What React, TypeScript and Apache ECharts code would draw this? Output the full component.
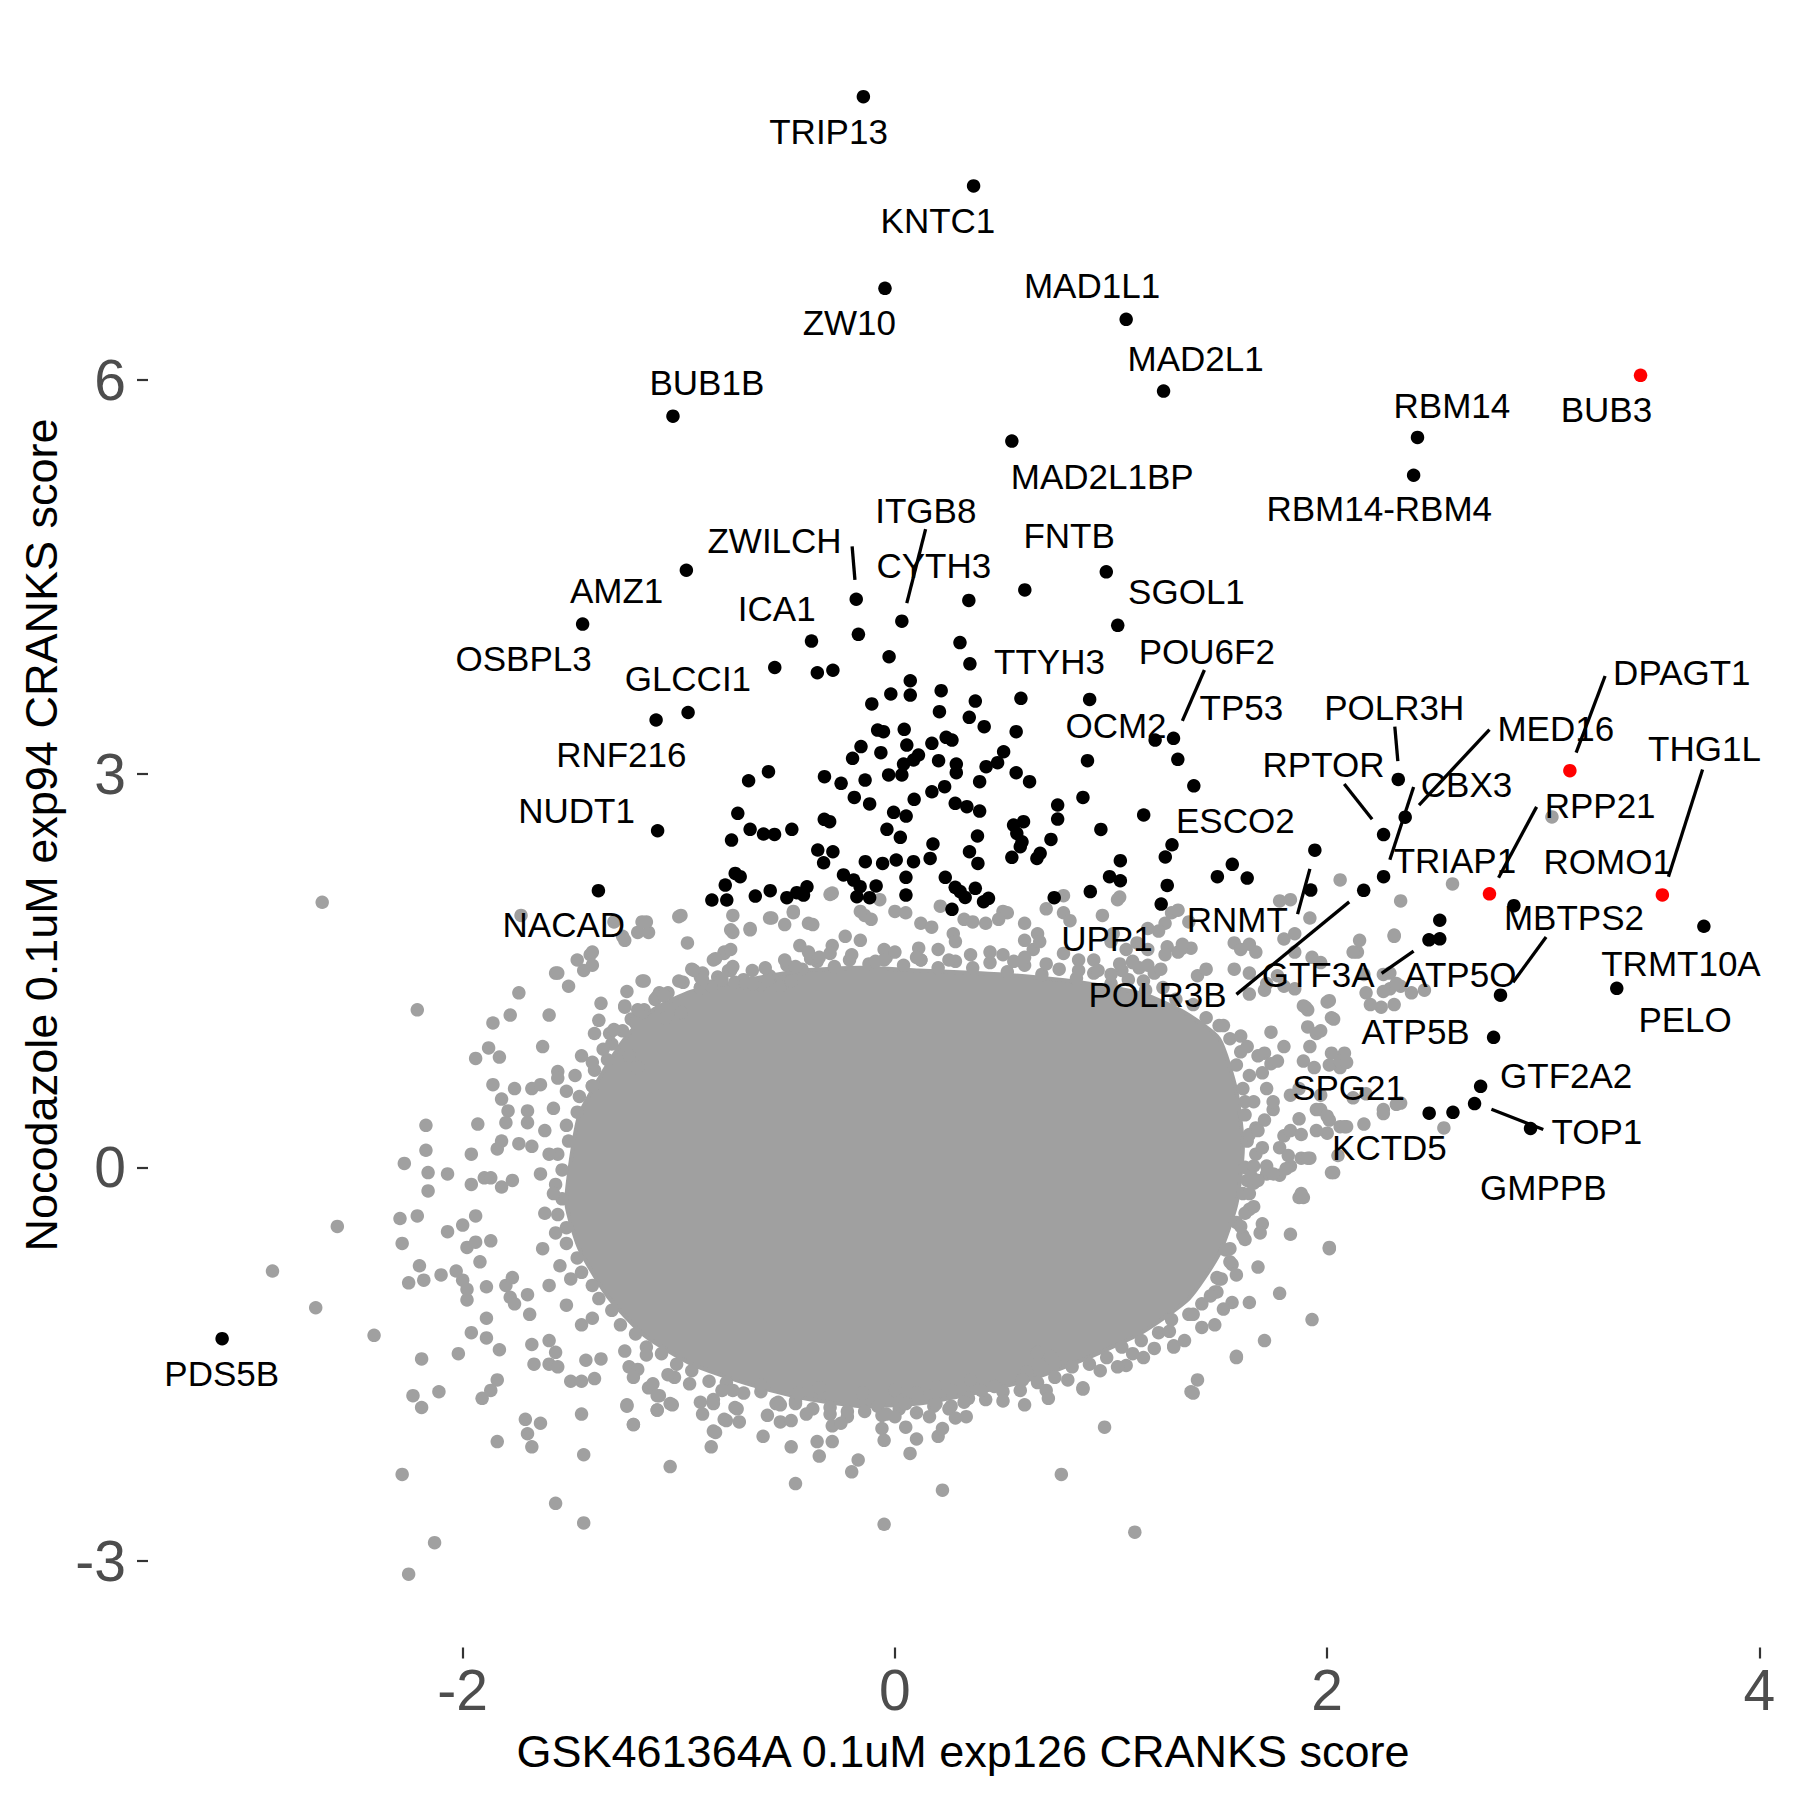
import React, { useEffect, useRef } from "react";
import * as echarts from "echarts";

const X_TICKS = [-2, 0, 2, 4];
const Y_TICKS = [-3, 0, 3, 6];
const X_TITLE = "GSK461364A 0.1uM exp126 CRANKS score";
const Y_TITLE = "Nocodazole 0.1uM exp94 CRANKS score";

// dense core of the background cloud (outline, data units)
const grayCore: [number, number][] = [
  [-1.5, 0.05], [-1.46, 0.4], [-1.36, 0.7], [-1.24, 1.0], [-1.12, 1.2], [-0.94, 1.34], [-0.68, 1.43],
  [-0.42, 1.5], [-0.16, 1.52], [0.11, 1.5], [0.38, 1.48], [0.64, 1.45], [0.9, 1.4], [1.15, 1.32],
  [1.34, 1.18], [1.5, 0.98], [1.58, 0.58], [1.61, 0.15], [1.58, -0.28], [1.5, -0.66], [1.36, -1.0],
  [1.14, -1.26], [0.88, -1.46], [0.62, -1.62], [0.37, -1.72], [0.11, -1.8], [-0.16, -1.82], [-0.42, -1.76],
  [-0.68, -1.65], [-0.94, -1.5], [-1.16, -1.28], [-1.33, -0.98], [-1.46, -0.62], [-1.52, -0.28],
];

// genes sitting on the rim of the dense core
const grayRim: [number, number][] = [
  [-1.05, 1.33], [-0.98, 1.41], [-0.9, 1.37], [-0.82, 1.45], [-0.74, 1.41], [-0.66, 1.5], [-0.58, 1.46],
  [-0.5, 1.54], [-0.43, 1.51], [-0.36, 1.57], [-0.28, 1.53], [-0.21, 1.58], [-0.12, 1.55], [-0.04, 1.6],
  [0.04, 1.54], [0.12, 1.58], [0.2, 1.52], [0.28, 1.57], [0.36, 1.52], [0.44, 1.56], [0.52, 1.49],
  [0.6, 1.54], [0.68, 1.47], [0.76, 1.51], [0.84, 1.44], [0.92, 1.48], [1.0, 1.4], [1.08, 1.43],
  [1.16, 1.35], [1.24, 1.37], [1.3, 1.28], [1.38, 1.24], [1.44, 1.14], [1.5, 1.08],
  [1.55, 0.98], [1.6, 0.88], [1.58, 0.78], [1.64, 0.7], [1.61, 0.6], [1.66, 0.5], [1.62, 0.4],
  [1.67, 0.3], [1.63, 0.2], [1.67, 0.1], [1.62, 0.0], [1.66, -0.1], [1.61, -0.2], [1.64, -0.32],
  [1.58, -0.42], [1.61, -0.52], [1.55, -0.62], [1.56, -0.74], [1.49, -0.84], [1.49, -0.95],
  [1.42, -1.04], [1.36, -1.12], [1.28, -1.16], [1.22, -1.26], [1.14, -1.32], [1.05, -1.37], [0.98, -1.45],
  [0.9, -1.5], [0.82, -1.52], [0.74, -1.6], [0.66, -1.64], [0.58, -1.7], [0.5, -1.71], [0.42, -1.77],
  [0.34, -1.76], [0.26, -1.82], [0.18, -1.82], [0.1, -1.87], [0.02, -1.84], [-0.06, -1.89], [-0.14, -1.86],
  [-0.22, -1.9], [-0.3, -1.83], [-0.38, -1.84], [-0.46, -1.78], [-0.54, -1.79], [-0.62, -1.71], [-0.7, -1.72],
  [-0.78, -1.64], [-0.86, -1.63], [-0.94, -1.55], [-1.01, -1.5], [-1.08, -1.42], [-1.15, -1.37], [-1.2, -1.27],
  [-1.27, -1.2], [-1.31, -1.09], [-1.37, -1.0], [-1.4, -0.9], [-1.45, -0.8], [-1.47, -0.69], [-1.52, -0.58],
  [-1.52, -0.46], [-1.56, -0.36], [-1.54, -0.24], [-1.57, -0.13], [-1.54, -0.02], [-1.56, 0.1], [-1.51, 0.2],
  [-1.52, 0.32], [-1.47, 0.42], [-1.46, 0.54], [-1.4, 0.62], [-1.39, 0.74], [-1.33, 0.82], [-1.31, 0.94],
  [-1.26, 1.04], [-1.22, 1.13], [-1.16, 1.2], [-1.11, 1.28],
];

// individual background genes outside the dense core
const grayPoints: [number, number][] = [
  [-2.65, 2.02], [-1.73, 1.92], [-1.3, 1.87], [-1.26, 1.76], [-1.19, 1.79], [-1.14, 1.79], [-0.99, 1.92],
  [-0.96, 1.71], [-0.75, 1.92], [-0.75, 1.79], [-1.47, 1.58], [-1.41, 1.62], [-1.4, 1.54], [-1.57, 1.48],
  [-1.74, 1.33], [-1.6, 1.16], [-1.78, 1.16], [-1.86, 1.1], [-2.21, 1.2], [-1.36, 1.25], [-1.37, 1.12],
  [-1.39, 1.02], [-1.32, 1.02], [-1.63, 0.92], [-1.94, 0.83], [-1.88, 0.91], [-1.83, 0.84], [-1.56, 0.73],
  [-1.56, 0.68], [-1.86, 0.63], [-1.45, 0.85], [-1.23, 0.85], [-1.19, 0.76], [-1.17, 1.18], [-1.06, 1.14],
  [-1.25, 1.23], [-1.19, 1.2], [-1.09, 1.33], [-0.99, 1.18], [-0.84, 1.58], [-0.79, 1.63], [-0.77, 1.5],
  [-0.94, 1.51], [-0.9, 1.45], [-0.9, 1.37], [-0.7, 1.43], [-1.76, 0.6], [-1.68, 0.6], [-1.64, 0.63],
  [-1.82, 0.52], [-1.79, 0.43], [-1.8, 0.34], [-1.7, 0.43], [-1.7, 0.34], [-1.93, 0.33], [-2.17, 0.32],
  [-2.17, 0.13], [-2.27, 0.03], [-2.16, -0.04], [-2.07, -0.05], [-2.16, -0.18], [-1.96, 0.1], [-1.84, 0.14],
  [-1.82, 0.2], [-1.74, 0.18], [-1.68, 0.16], [-1.96, -0.13], [-1.9, -0.08], [-1.87, -0.08], [-1.82, -0.15],
  [-1.77, -0.1], [-1.94, -0.37], [-2.29, -0.39], [-2.21, -0.37], [-2.28, -0.58], [-2.07, -0.49], [-2.0, -0.44],
  [-1.98, -0.61], [-1.94, -0.57], [-1.87, -0.56], [-2.58, -0.45], [-2.88, -0.79], [-2.68, -1.07], [-2.41, -1.28],
  [-2.2, -0.75], [-2.18, -0.86], [-2.25, -0.88], [-2.1, -0.82], [-2.03, -0.79], [-2.0, -0.86], [-1.98, -0.93],
  [-1.98, -1.01], [-1.92, -0.72], [-1.89, -0.91], [-1.8, -0.9], [-1.77, -0.84], [-1.78, -0.99], [-1.76, -1.04],
  [-1.69, -1.12], [-1.7, -0.97], [-1.96, -1.26], [-1.89, -1.15], [-1.89, -1.3], [-1.83, -1.39], [-2.19, -1.46],
  [-2.11, -1.71], [-2.02, -1.42], [-2.23, -1.74], [-2.19, -1.83], [-1.91, -1.76], [-1.87, -1.7], [-1.84, -1.62],
  [-1.84, -2.09], [-1.71, -1.92], [-1.64, -1.95], [-1.7, -2.03], [-1.68, -2.13], [-2.28, -2.34], [-1.57, -2.56],
  [-1.44, -2.71], [-2.13, -2.86], [-2.25, -3.1], [-1.44, -2.19], [-1.45, -1.88], [-1.04, -2.28], [-1.21, -1.96],
  [-1.24, -1.82], [-1.5, -1.63], [-1.45, -1.63], [-1.39, -1.61], [-1.43, -1.47], [-1.68, -1.35], [-1.6, -1.32],
  [-1.57, -1.41], [-1.67, -1.5], [-1.6, -1.5], [-1.56, -1.52], [-1.36, -1.46], [-1.14, -1.68], [-1.09, -1.74],
  [-1.03, -1.81], [-1.1, -1.85], [-0.9, -1.79], [-0.84, -1.77], [-0.89, -1.88], [-0.79, -1.92], [-0.74, -1.83],
  [-0.84, -2.01], [-0.85, -2.13], [-1.23, -1.52], [-1.19, -1.54], [-1.15, -1.43],
  [-1.62, 0.28], [-1.6, 0.1], [-1.64, -0.05], [-1.58, -0.2], [-1.62, -0.35], [-1.57, -0.5], [-1.63, -0.62],
  [-1.55, -0.75], [-1.6, -0.9], [-1.52, -1.05], [-1.45, -1.2], [-1.58, 0.45], [-1.52, 0.58], [-1.4, 0.62],
  [-0.3, 2.08], [-0.07, 2.04], [0.21, 1.99], [0.78, 2.07], [1.04, 2.06], [0.96, 1.92], [0.7, 1.97],
  [0.5, 1.95], [0.52, 1.94], [0.48, 1.89], [0.42, 1.86], [0.32, 1.89], [0.36, 1.87], [0.27, 1.78],
  [0.28, 1.72], [0.12, 1.86], [0.17, 1.83], [0.0, 1.95], [0.05, 1.94], [-0.14, 1.92], [-0.11, 1.89],
  [-0.16, 1.95], [-0.4, 1.86], [-0.38, 1.85], [-0.47, 1.94], [-0.51, 1.85], [-0.58, 1.9], [-0.67, 1.81],
  [-1.25, 1.73], [-1.17, 1.42], [-1.08, 1.32], [-1.25, 1.22], [-0.44, 1.69], [-0.51, 1.58], [-0.46, 1.53],
  [-0.39, 1.59], [-0.4, 1.64], [-0.29, 1.69], [-0.3, 1.63], [-0.23, 1.76], [-0.16, 1.73], [-0.79, 1.64],
  [-0.83, 1.59], [-0.76, 1.5], [-0.8, 1.43], [-0.89, 1.48], [-0.85, 1.38], [-0.69, 1.4], [-0.62, 1.39],
  [-0.59, 1.43], [-0.53, 1.38], [-0.48, 1.42], [-0.05, 1.66], [0.0, 1.64], [-0.09, 1.57], [0.11, 1.67],
  [0.12, 1.58], [0.44, 1.64], [0.5, 1.62], [0.6, 1.73], [0.64, 1.66], [0.66, 1.78], [0.67, 1.72],
  [0.6, 1.86], [0.78, 1.63], [0.85, 1.58], [1.01, 1.78], [1.12, 1.71], [1.17, 1.66], [1.26, 1.68],
  [1.33, 1.67], [1.1, 1.57], [1.05, 1.5], [0.92, 1.58], [0.94, 1.5], [1.28, 1.94], [1.31, 1.96],
  [1.36, 1.87], [1.25, 1.86],
  [-0.35, 1.6], [-0.2, 1.62], [-0.05, 1.58], [0.1, 1.6], [0.25, 1.58], [0.35, 1.62], [0.55, 1.57],
  [0.7, 1.55], [0.85, 1.5], [1.0, 1.47], [1.15, 1.42], [0.2, 1.66], [-0.6, 1.52], [0.6, 1.6],
  [1.2, 1.48], [-1.0, 1.42], [-1.1, 1.3],
  [-1.3, 1.05], [-1.2, 1.1], [-1.4, 0.8], [-1.48, 0.7], [-1.35, 0.9],
  [-1.0, 1.91], [-1.17, 1.87], [-1.15, 1.87], [-1.4, 1.64], [-1.56, 1.48], [-1.16, 1.42], [-1.07, 1.31],
  [-0.76, 1.81], [-0.67, 1.82], [-0.57, 1.9], [-0.47, 1.95], [-0.29, 2.09], [-0.76, 1.66], [-0.75, 1.53],
  [-0.93, 1.5], [-0.89, 1.43], [-0.66, 1.4], [-1.44, 1.5], [-1.51, 1.38], [-1.24, 1.34],
  [3.04, 2.67], [2.58, 2.16], [2.34, 2.03], [2.06, 2.19], [2.31, 1.77], [2.15, 1.73], [2.14, 1.64],
  [2.29, 1.36], [2.34, 1.38], [2.39, 1.33], [2.45, 1.35], [2.25, 1.22], [2.31, 1.24], [2.03, 1.13],
  [2.01, 1.27], [1.9, 1.22], [1.91, 1.07], [2.08, 0.87], [2.06, 0.76], [2.01, 0.78], [2.34, 0.49],
  [2.26, 0.44], [2.18, 0.56], [2.12, 0.53], [2.17, 0.33], [2.08, 0.31], [2.54, 0.3], [2.05, 0.09],
  [2.03, -0.04], [1.95, 0.44], [1.87, 0.37], [1.8, 0.24], [1.72, -0.05], [1.62, -0.35], [1.7, -0.43],
  [1.83, -0.51], [2.01, -0.62], [1.93, -1.16], [1.78, -0.96], [1.71, -1.32], [1.68, -0.76], [1.64, -1.03],
  [1.56, -1.03], [1.58, -1.45], [1.48, -1.2], [1.51, -0.85], [1.53, -0.63], [1.48, -0.95], [1.4, -1.62],
  [1.37, -1.71], [1.29, -1.36], [1.15, -1.45], [1.07, -1.51], [0.87, -1.69], [2.02, -0.04], [1.87, -0.23],
  [1.89, -0.23], [1.69, -0.5], [1.63, -0.1], [1.66, -0.12], [1.72, 0.01], [1.78, 0.15], [1.82, 0.09],
  [1.83, 0.01], [1.88, 0.07], [1.92, 0.07], [2.0, 0.26], [1.95, 0.28], [2.01, 0.36], [2.06, 0.31],
  [2.09, 0.31], [2.26, 0.41], [2.32, 0.48], [2.02, 0.87], [2.06, 0.81], [2.09, 0.8], [2.0, 1.26],
  [2.02, 1.14], [1.91, 1.2], [1.95, 1.02], [1.97, 1.04], [2.12, 1.64], [2.31, 1.76], [2.26, 1.47],
  [2.29, 1.48], [2.32, 1.4], [2.18, 1.33], [2.26, 1.34], [2.2, 1.24], [2.17, 1.47], [1.97, 1.56],
  [1.93, 1.6], [1.85, 1.64], [1.8, 1.74], [1.85, 1.78], [1.92, 1.9], [1.64, 1.7], [1.67, 1.64],
  [1.83, 2.04], [1.78, 2.03], [1.85, 1.36], [1.8, 1.38], [1.71, 1.35], [1.64, 1.32], [1.57, 1.51],
  [1.64, 1.48], [1.4, 1.46], [1.44, 1.51], [1.23, 1.51], [1.17, 1.54], [1.13, 1.52], [1.31, 1.64],
  [1.37, 1.67], [1.33, 1.7], [1.25, 1.62], [1.03, 2.04], [0.78, 1.94], [0.81, 1.88], [1.0, 1.72],
  [1.07, 1.66], [1.1, 1.56], [1.04, 1.55], [1.17, 1.82], [1.22, 1.8], [1.57, 1.71], [1.6, 1.66],
  [1.72, 1.4], [1.77, 1.46], [1.89, 1.23], [1.92, 0.92], [1.89, 0.81], [1.94, 0.76], [1.74, 1.03],
  [1.8, 0.92], [1.63, 0.92], [1.71, 0.87], [1.74, 0.79], [1.77, 0.81], [1.52, 1.08], [1.6, 1.0],
  [1.87, 0.6], [1.83, 0.55], [1.75, 0.44], [1.71, 0.36], [1.64, 0.25], [1.97, 0.55], [1.97, 0.44],
  [2.0, 0.39], [1.83, 0.28], [1.88, 0.25], [1.68, 0.28], [1.7, 0.15], [1.66, 0.01], [1.68, -0.1],
  [1.64, -0.2], [1.66, -0.3], [1.6, -0.45], [1.62, -0.55], [1.55, -0.72], [1.58, -0.82], [1.46, -0.98],
  [1.52, -1.08], [1.38, -1.12], [1.42, -1.22], [1.27, -1.25], [1.34, -1.32], [1.1, -1.42], [1.2, -1.38],
  [0.95, -1.55], [1.03, -1.52], [0.8, -1.62], [0.7, -1.7], [0.5, -1.78], [0.25, -1.84], [0.0, -1.9],
  [-0.3, -1.88], [-0.55, -1.8], [-0.8, -1.7], [-1.02, -1.6], [-1.25, -1.4], [-1.4, -1.15], [-1.5, -0.85],
  [1.72, 0.6], [1.7, 0.72], [1.68, 0.85], [1.62, 0.5], [1.75, 0.5],
  [-1.24, -1.81], [-1.21, -1.96], [-1.1, -1.85], [-1.04, -1.8], [-1.12, -1.65], [-1.1, -1.74], [-1.21, -1.6],
  [-0.84, -1.8], [-0.83, -2.02], [-0.78, -1.93], [-0.72, -1.94], [-0.73, -1.84], [-0.61, -2.05], [-0.59, -1.89],
  [-0.53, -1.94], [-0.48, -1.93], [-0.53, -1.81], [-0.48, -2.13], [-0.46, -2.41], [-0.41, -1.88], [-0.46, -1.8],
  [-0.36, -2.09], [-0.35, -2.2], [-0.29, -2.09], [-0.29, -1.97], [-0.25, -1.95], [-0.22, -1.86], [-0.17, -2.23],
  [-0.2, -2.32], [-0.05, -2.72], [-0.06, -1.99], [-0.05, -2.08], [-0.08, -1.82], [-0.04, -1.88], [0.05, -1.98],
  [0.1, -2.07], [0.07, -2.18], [0.05, -1.8], [0.1, -1.72], [0.19, -1.8], [0.16, -1.9], [0.2, -2.05],
  [0.22, -1.99], [0.22, -2.46], [0.28, -1.91], [0.33, -1.9], [0.32, -1.79], [0.19, -1.67], [0.26, -1.7],
  [0.4, -1.7], [0.46, -1.67], [0.6, -1.81], [0.71, -1.76], [0.59, -1.62], [0.77, -2.34], [0.87, -1.68],
  [0.97, -1.98], [1.11, -2.78], [1.29, -1.37], [1.38, -1.72], [1.58, -1.44], [1.5, -0.85], [2.01, -0.61],
  [1.88, -0.2], [1.78, -0.06], [1.81, -0.01], [1.75, -0.05], [1.91, 0.07], [1.65, -0.07],
  [0.74, -1.49], [0.72, -1.44], [0.66, -1.41], [0.61, -1.56], [0.59, -1.62],
  [-0.95, -1.65], [-0.75, -1.7], [-0.62, -1.66], [-0.45, -1.72], [-0.35, -1.68], [-0.15, -1.72], [0.0, -1.7],
  [-1.05, -1.58], [0.35, -1.62],
];

// highlighted genes (black)
const blackPoints: [number, number][] = [
  [-0.146, 8.159], [0.364, 7.479], [-0.046, 6.698], [1.07, 6.462], [1.243, 5.915], [-1.027, 5.724],
  [0.541, 5.534], [2.418, 5.562], [2.4, 5.274], [-0.965, 4.55], [-1.445, 4.14], [-0.179, 4.329],
  [0.032, 4.162], [0.342, 4.32], [0.601, 4.4], [0.978, 4.538], [1.031, 4.13], [-0.386, 4.01],
  [-0.169, 4.062], [0.301, 3.999], [-0.027, 3.891], [0.347, 3.837], [-0.556, 3.809], [-0.359, 3.769],
  [-0.287, 3.788], [-0.957, 3.466], [-1.105, 3.409], [-1.098, 2.565], [-1.372, 2.108], [-3.113, -1.306],
  [0.071, 3.708], [-0.019, 3.607], [0.071, 3.599], [-0.107, 3.531], [-0.08, 3.332], [-0.053, 3.32],
  [0.043, 3.338], [0.055, 3.218], [-0.157, 3.206], [-0.065, 3.16], [-0.196, 3.117], [0.04, 3.073],
  [0.086, 3.104], [-0.585, 3.015], [-0.677, 2.946], [-0.326, 2.977], [-0.249, 2.926], [-0.138, 2.951],
  [-0.029, 2.99], [0.032, 2.99], [-0.188, 2.819], [-0.117, 2.769], [0.089, 2.804], [-0.727, 2.698],
  [-0.327, 2.652], [-0.302, 2.634], [-0.006, 2.705], [0.052, 2.677], [-0.67, 2.576], [-0.608, 2.54],
  [-0.557, 2.537], [-0.477, 2.576], [-0.756, 2.494], [-0.037, 2.576], [0.025, 2.515], [-0.357, 2.418],
  [-0.287, 2.405], [-0.33, 2.321], [-0.137, 2.329], [-0.057, 2.316], [0.006, 2.342], [0.086, 2.329],
  [-0.739, 2.24], [-0.716, 2.215], [-0.785, 2.151], [-0.238, 2.228], [-0.191, 2.189], [-0.161, 2.139],
  [-0.087, 2.144], [0.051, 2.21], [-0.847, 2.037], [-0.778, 2.037], [-0.646, 2.067], [-0.577, 2.108],
  [-0.5, 2.055], [-0.454, 2.093], [-0.407, 2.138], [-0.423, 2.075], [-0.176, 2.062], [-0.117, 2.055],
  [0.051, 2.075],
  [0.214, 3.632], [0.372, 3.553], [0.583, 3.574], [0.901, 3.566], [0.206, 3.472], [0.344, 3.429],
  [0.413, 3.358], [0.561, 3.32], [0.237, 3.277], [0.264, 3.256], [0.171, 3.231], [0.109, 3.142],
  [0.503, 3.167], [0.475, 3.084], [0.422, 3.053], [0.202, 3.099], [0.284, 3.073], [0.284, 3.007],
  [0.561, 3.007], [0.623, 2.939], [0.392, 2.939], [0.23, 2.901], [0.171, 2.862], [0.891, 3.099],
  [0.87, 2.819], [0.753, 2.761], [0.753, 2.654], [0.279, 2.774], [0.333, 2.748], [0.392, 2.715],
  [1.151, 2.685], [1.383, 2.907], [1.309, 3.109], [1.289, 3.269], [1.204, 3.256], [0.953, 2.575],
  [0.549, 2.608], [0.595, 2.634], [0.564, 2.545], [0.588, 2.481], [0.58, 2.443], [0.722, 2.499],
  [0.672, 2.393], [0.657, 2.354], [0.541, 2.362], [0.382, 2.525], [0.176, 2.464], [0.163, 2.354],
  [0.345, 2.405], [0.384, 2.316], [1.282, 2.458], [1.251, 2.365], [1.043, 2.337], [0.993, 2.215],
  [1.043, 2.184], [1.26, 2.148], [0.904, 2.101], [1.232, 2.006], [0.233, 2.21], [0.279, 2.134],
  [0.302, 2.101], [0.372, 2.126], [0.325, 2.057], [0.41, 2.024], [0.433, 2.05], [0.737, 2.055],
  [0.264, 1.966],
  [1.492, 2.215], [1.561, 2.309], [1.63, 2.204], [1.943, 2.417], [1.924, 2.113], [2.329, 2.956],
  [2.361, 2.668], [2.261, 2.536], [2.261, 2.215], [2.169, 2.111], [2.864, 1.994], [2.802, 1.312],
  [3.743, 1.837], [3.34, 1.364], [2.77, 0.991], [2.521, 1.883], [2.471, 1.734], [2.521, 1.741],
  [2.71, 0.617], [2.941, 0.296], [2.682, 0.486], [2.582, 0.419], [2.472, 0.413],
];

// highlighted genes (red)
const redPoints: [number, number][] = [
  [3.45, 6.035], [3.123, 3.023], [2.751, 2.084], [3.551, 2.076],
];

// gene name labels: [x, y, name] (label centre, data units)
const geneLabels: [number, number, string][] = [
  [-0.307, 7.897, "TRIP13"], [0.199, 7.217, "KNTC1"], [-0.211, 6.435, "ZW10"], [0.912, 6.717, "MAD1L1"],
  [1.391, 6.164, "MAD2L1"], [-0.87, 5.983, "BUB1B"], [2.577, 5.808, "RBM14"], [3.292, 5.773, "BUB3"],
  [0.959, 5.268, "MAD2L1BP"], [2.241, 5.019, "RBM14-RBM4"], [0.143, 5.006, "ITGB8"], [0.806, 4.813, "FNTB"],
  [-0.557, 4.773, "ZWILCH"], [0.18, 4.583, "CYTH3"], [-1.288, 4.396, "AMZ1"], [1.349, 4.391, "SGOL1"],
  [-0.547, 4.262, "ICA1"], [-1.718, 3.874, "OSBPL3"], [0.715, 3.856, "TTYH3"], [1.443, 3.929, "POU6F2"],
  [-0.958, 3.725, "GLCCI1"], [1.603, 3.505, "TP53"], [2.31, 3.505, "POLR3H"], [3.641, 3.767, "DPAGT1"],
  [1.023, 3.367, "OCM2"], [3.058, 3.344, "MED16"], [-1.266, 3.148, "RNF216"], [3.746, 3.19, "THG1L"],
  [1.983, 3.073, "RPTOR"], [2.645, 2.921, "CBX3"], [-1.473, 2.719, "NUDT1"], [3.263, 2.761, "RPP21"],
  [1.575, 2.644, "ESCO2"], [2.591, 2.338, "TRIAP1"], [3.298, 2.33, "ROMO1"], [-1.532, 1.853, "NACAD"],
  [1.584, 1.892, "RNMT"], [3.142, 1.907, "MBTPS2"], [0.981, 1.74, "UPP1"], [3.637, 1.557, "TRMT10A"],
  [1.958, 1.469, "GTF3A"], [2.616, 1.469, "ATP5O"], [1.215, 1.32, "POLR3B"], [3.656, 1.128, "PELO"],
  [2.409, 1.032, "ATP5B"], [3.106, 0.699, "GTF2A2"], [2.099, 0.609, "SPG21"], [3.248, 0.274, "TOP1"],
  [2.288, 0.151, "KCTD5"], [3.0, -0.155, "GMPPB"], [-3.115, -1.568, "PDS5B"],
];

// label connector segments: [x1, y1, x2, y2]
const labelSegments: [number, number, number, number][] = [
  [-0.198, 4.732, -0.185, 4.476], [0.142, 4.864, 0.055, 4.3], [1.432, 3.79, 1.33, 3.402],
  [2.313, 3.359, 2.327, 3.096], [2.751, 3.336, 2.425, 2.761], [2.4, 2.898, 2.29, 2.344],
  [2.079, 2.921, 2.208, 2.653], [2.969, 2.747, 2.793, 2.207], [3.286, 3.744, 3.152, 3.16],
  [3.737, 3.032, 3.579, 2.215], [3.013, 1.755, 2.86, 1.411], [2.252, 1.478, 2.4, 1.647],
  [1.58, 1.318, 2.102, 2.023], [1.863, 1.93, 1.92, 2.274], [2.76, 0.443, 3.0, 0.288],
];

const FONT = "'Liberation Sans', Arial, Helvetica, sans-serif";
const GRAY = "#A0A0A0";

export default function App() {
  const ref = useRef<HTMLDivElement>(null);
  useEffect(() => {
    if (!ref.current) return;
    const chart = echarts.init(ref.current, null, { renderer: "svg" });
    const axisCommon = {
      type: "value",
      axisLine: { show: false, onZero: false },
      splitLine: { show: false },
      nameLocation: "middle",
      nameTextStyle: { color: "#000000", fontSize: 45, fontFamily: FONT },
    };
    const dot = (data: [number, number][], color: string, z: number) => ({
      type: "scatter",
      silent: true,
      z,
      data,
      symbolSize: 13.5,
      itemStyle: { color, opacity: 1 },
    });
    chart.setOption({
      animation: false,
      backgroundColor: "#ffffff",
      grid: { left: 148, top: 22.5, width: 1630, height: 1625, containLabel: false },
      xAxis: {
        ...axisCommon,
        min: -3.456,
        max: 4.086,
        axisTick: { show: true, length: 11, lineStyle: { color: "#333333", width: 2.2 }, customValues: X_TICKS },
        axisLabel: {
          show: true, customValues: X_TICKS, color: "#4D4D4D", fontSize: 57, fontFamily: FONT, margin: 14,
          formatter: (v: number) => String(v),
        },
        name: X_TITLE,
        nameGap: 81,
      },
      yAxis: {
        ...axisCommon,
        min: -3.659,
        max: 8.724,
        axisTick: { show: true, length: 11, lineStyle: { color: "#333333", width: 2.2 }, customValues: Y_TICKS },
        axisLabel: {
          show: true, customValues: Y_TICKS, color: "#4D4D4D", fontSize: 57, fontFamily: FONT, margin: 22,
          formatter: (v: number) => String(v),
        },
        name: Y_TITLE,
        nameRotate: 90,
        nameGap: 83,
      },
      series: [
        {
          type: "custom",
          silent: true,
          z: 1,
          data: grayCore,
          renderItem: (params: any, api: any) => {
            if (params.dataIndex !== 0) return null;
            const pts = grayCore.map((p) => api.coord(p));
            return {
              type: "polygon",
              shape: { points: pts, smooth: 0.2 },
              style: { fill: GRAY, stroke: GRAY, lineWidth: 4, lineJoin: "round" },
            };
          },
        },
        dot(grayRim, GRAY, 2),
        dot(grayPoints, GRAY, 2),
        dot(blackPoints, "#000000", 3),
        dot(redPoints, "#FF0000", 4),
        {
          type: "custom",
          silent: true,
          z: 5,
          data: labelSegments.map((s) => [s[0], s[1]]),
          renderItem: (params: any, api: any) => {
            const s = labelSegments[params.dataIndex];
            const a = api.coord([s[0], s[1]]);
            const b = api.coord([s[2], s[3]]);
            return {
              type: "line",
              shape: { x1: a[0], y1: a[1], x2: b[0], y2: b[1] },
              style: { stroke: "#000000", lineWidth: 3.3 },
            };
          },
        },
        {
          type: "custom",
          silent: true,
          z: 6,
          data: geneLabels.map((g) => [g[0], g[1]]),
          renderItem: (params: any, api: any) => {
            const g = geneLabels[params.dataIndex];
            const c = api.coord([g[0], g[1]]);
            return {
              type: "text",
              x: c[0],
              y: c[1],
              style: {
                text: g[2],
                fill: "#000000",
                fontSize: 35,
                fontFamily: FONT,
                align: "center",
                verticalAlign: "middle",
                textAlign: "center",
                textVerticalAlign: "middle",
              },
            };
          },
        },
      ],
    });
    return () => chart.dispose();
  }, []);
  return (
    <div
      ref={ref}
      style={{ position: "absolute", left: 0, top: 0, width: 1800, height: 1800, background: "#ffffff" }}
    />
  );
}
